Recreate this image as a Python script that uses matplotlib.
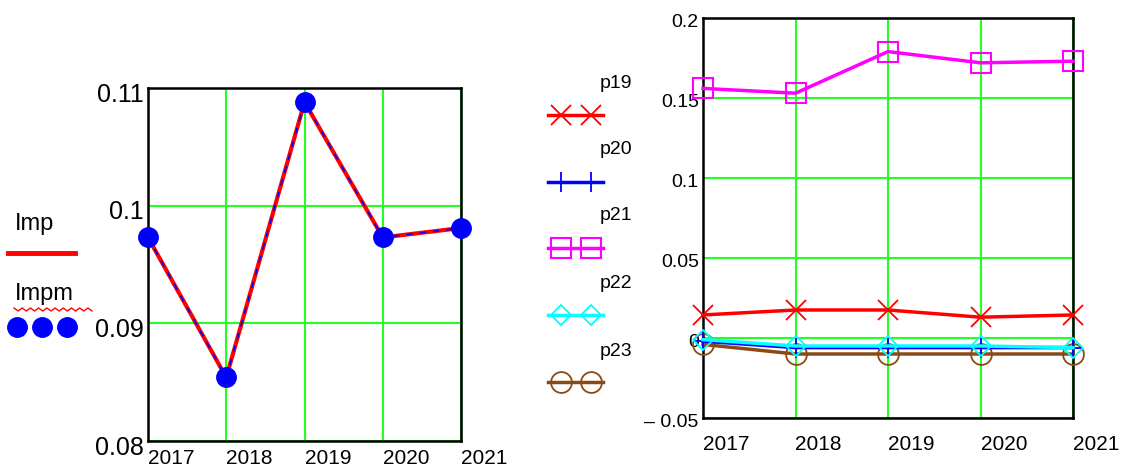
import numpy as np
import matplotlib
matplotlib.use("Agg")
import matplotlib.pyplot as plt
import matplotlib.transforms as mtransforms
from matplotlib.lines import Line2D

# 연도별 Imp / Impm 값과 p19~p23 값
years = [2017, 2018, 2019, 2020, 2021]
imp = [0.0973, 0.0854, 0.1088, 0.0973, 0.0981]
impm = [0.0973, 0.0854, 0.1088, 0.0973, 0.0981]

p19 = [0.0144, 0.0175, 0.0175, 0.0130, 0.0144]
p20 = [-0.002, -0.006, -0.006, -0.006, -0.006]
p21 = [0.156, 0.153, 0.179, 0.172, 0.173]
p22 = [-0.001, -0.005, -0.005, -0.005, -0.006]
p23 = [-0.004, -0.010, -0.010, -0.010, -0.010]

left_yticks = [0.08, 0.09, 0.1, 0.11]
left_ylabels = ["0.08", "0.09", "0.1", "0.11"]
right_yticks = [-0.05, 0, 0.05, 0.1, 0.15, 0.2]
right_ylabels = ["\u2013 0.05", "0", "0.05", "0.1", "0.15", "0.2"]

plt.rcParams["font.family"] = ["Liberation Sans", "DejaVu Sans"]

W, H = 1126, 468
fig = plt.figure(figsize=(W / 100, H / 100), dpi=100)

def fx(px):
    return px / W

def fy(py):
    return 1 - py / H

GREEN = "#22ff22"

def style_axes(ax):
    for s in ax.spines.values():
        s.set_linewidth(1.8)
        s.set_color("black")
    ax.grid(True, color=GREEN, linewidth=1.5)
    ax.set_axisbelow(True)
    ax.set_xlim(2017, 2021)
    ax.set_xticks(years)
    ax.tick_params(length=0)

def shift_ylabels(ax, dy):
    # 눈금 라벨을 살짝 아래로 (Mathcad 스타일)
    off = mtransforms.ScaledTranslation(0, -dy / 72, fig.dpi_scale_trans)
    for t in ax.get_yticklabels():
        t.set_transform(t.get_transform() + off)

# 왼쪽 그래프
ax1 = fig.add_axes([fx(148), fy(441), fx(461) - fx(148), fy(88) - fy(441)])
style_axes(ax1)
ax1.plot(years, imp, color="red", linewidth=3, zorder=3)
ax1.plot(years, impm, color="blue", linewidth=1.2, linestyle=(0, (4, 4)), zorder=4)
ax1.plot(years, impm, linestyle="none", marker="o", markersize=14,
         color="blue", zorder=5, clip_on=False)
ax1.set_ylim(0.08, 0.11)
ax1.set_yticks(left_yticks)
ax1.set_yticklabels(left_ylabels, fontsize=18)
ax1.set_xticklabels([str(y) for y in years], fontsize=15)
ax1.tick_params(axis="y", pad=3)
ax1.tick_params(axis="x", pad=6)
for t in ax1.get_xticklabels():
    t.set_ha("left")
shift_ylabels(ax1, 3)

# 오른쪽 그래프
ax2 = fig.add_axes([fx(703), fy(418), fx(1073) - fx(703), fy(18) - fy(418)])
style_axes(ax2)
ms = 15
ax2.plot(years, p23, color="#8b4a13", linewidth=2.5, marker="o", mfc="none",
         markersize=ms, mew=1.3, clip_on=False, zorder=3)
ax2.plot(years, p20, color="blue", linewidth=2.5, marker="+", markersize=ms,
         mew=1.3, clip_on=False, zorder=3)
ax2.plot(years, p22, color="cyan", linewidth=2.5, marker="D", mfc="none",
         markersize=ms * 0.7, mew=1.3, clip_on=False, zorder=4)
ax2.plot(years, p19, color="red", linewidth=2.5, marker="x", markersize=ms,
         mew=1.3, clip_on=False, zorder=3)
ax2.plot(years, p21, color="magenta", linewidth=2.5, marker="s", mfc="none",
         markersize=ms, mew=1.5, clip_on=False, zorder=3)
ax2.set_ylim(-0.05, 0.2)
ax2.set_yticks(right_yticks)
ax2.set_yticklabels(right_ylabels, fontsize=14)
ax2.set_xticklabels([str(y) for y in years], fontsize=15)
ax2.tick_params(axis="y", pad=3)
ax2.tick_params(axis="x", pad=12)
for t in ax2.get_xticklabels():
    t.set_ha("left")
shift_ylabels(ax2, 2)

# 왼쪽 범례
fig.text(fx(15), fy(224), "Imp", fontsize=17, va="center", ha="left")
fig.add_artist(Line2D([fx(8), fx(75)], [fy(253), fy(253)], color="red",
                      linewidth=3.5, transform=fig.transFigure))
fig.text(fx(15), fy(294), "Impm", fontsize=17, va="center", ha="left")
zx = np.linspace(fx(14), fx(92), 20)
zy = [fy(308) if i % 2 == 0 else fy(311) for i in range(len(zx))]
fig.add_artist(Line2D(zx, zy, color="red", linewidth=1, transform=fig.transFigure))
fig.add_artist(Line2D([fx(17), fx(42), fx(67)], [fy(327)] * 3, linestyle="none",
                      marker="o", markersize=14, color="blue",
                      transform=fig.transFigure))

# 오른쪽 범례
legend_items = [
    ("p19", 84, 115, dict(color="red", marker="x", markersize=15, mew=1.3)),
    ("p20", 150, 182, dict(color="blue", marker="+", markersize=15, mew=1.3)),
    ("p21", 216, 248, dict(color="magenta", marker="s", mfc="none", markersize=15, mew=1.5)),
    ("p22", 283, 315, dict(color="cyan", marker="D", mfc="none", markersize=10.5, mew=1.3)),
    ("p23", 351, 382, dict(color="#8b4a13", marker="o", mfc="none", markersize=15, mew=1.3)),
]
for name, ty, ly, kw in legend_items:
    fig.text(fx(600), fy(ty), name, fontsize=14, va="center", ha="left")
    fig.add_artist(Line2D([fx(548), fx(603)], [fy(ly), fy(ly)], linewidth=2.5,
                          color=kw["color"], transform=fig.transFigure))
    fig.add_artist(Line2D([fx(561), fx(591)], [fy(ly), fy(ly)], linestyle="none",
                          transform=fig.transFigure, **kw))

fig.savefig("out.png", dpi=100)
